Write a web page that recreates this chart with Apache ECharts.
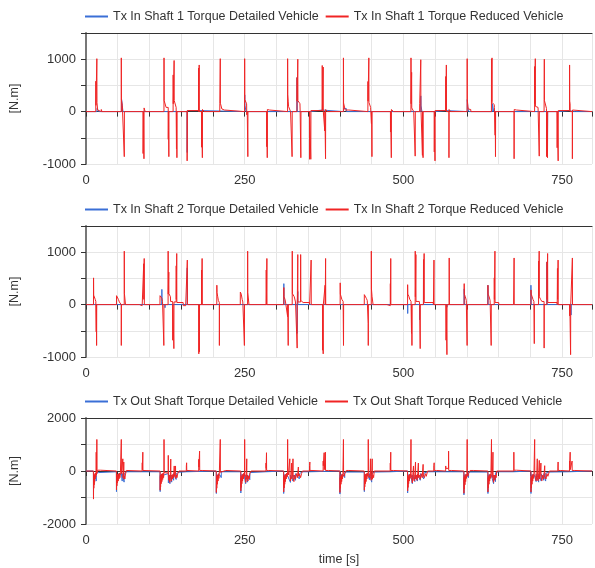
<!DOCTYPE html>
<html>
<head>
<meta charset="utf-8">
<script src="https://cdn.jsdelivr.net/npm/echarts@6.0.0/dist/echarts.min.js"></script>
<style>
  html, body { margin: 0; padding: 0; background: #fff; }
  #chart { width: 595px; height: 568px; }
</style>
</head>
<body>
<div id="chart"></div>
<script>
// tick labels
const timeLabels = [0, 250, 500, 750];
const inShaftLabels = [-1000, 0, 1000];
const outShaftLabels = [-2000, 0, 2000];

const names1 = ['Tx In Shaft 1 Torque Detailed Vehicle', 'Tx In Shaft 1 Torque Reduced Vehicle'];
const names2 = ['Tx In Shaft 2 Torque Detailed Vehicle', 'Tx In Shaft 2 Torque Reduced Vehicle'];
const names3 = ['Tx Out Shaft Torque Detailed Vehicle', 'Tx Out Shaft Torque Reduced Vehicle'];

// [time s, torque N.m]
const shaft1Reduced = [
  [0,0],[15.4,0],[15.5,580],[15.7,120],[17.0,120],[17.1,1010],[17.3,170],[18.2,160],[18.4,30],[21,30],[21.2,0],[24,0],[24.1,40],[25,40],[25.1,0],
  [55.5,0],[55.6,1025],[55.8,220],[57,200],[57.2,120],[59.5,100],[60.2,100],[60.3,-860],[60.5,0],
  [89.8,0],[89.9,-800],[90.4,0],[91.2,0],[91.3,-900],[91.5,70],[93,60],[93.2,0],
  [122.8,0],[122.9,1025],[123.1,210],[126,200],[126.2,80],[129.5,80],[129.6,-530],[129.8,0],[130.4,0],[130.5,-860],[130.7,0],
  [137.2,0],[137.3,700],[137.5,150],[138.7,150],[138.8,975],[139,210],[141.8,180],[142,80],[142.4,80],[142.5,-710],[142.7,0],[143.1,0],[143.2,-880],[143.4,0],
  [159.2,0],[159.3,-940],[159.6,20],[177.2,20],[177.3,830],[177.5,0],[178.2,0],[178.3,890],[178.5,0],
  [182,0],[182.1,-680],[182.3,0],[183.2,0],[183.3,-880],[183.5,40],[186,40],[186.2,0],
  [210.7,0],[210.8,160],[211.4,160],[211.5,1010],[211.7,160],[214,50],[218,30],[218.2,0],
  [249.8,0],[249.9,1010],[250.1,230],[253,150],[253.2,-60],[254,0],[254.8,0],[254.9,-860],[255.1,0],
  [284.6,0],[284.7,-670],[284.9,0],[285.4,0],[285.5,-880],[285.7,40],[289,30],[289.2,0],
  [317.5,0],[317.6,1010],[317.8,330],[318.5,200],[319,100],[322,80],[322.2,0],[324.5,0],[324.6,-860],[324.8,0],
  [332.3,0],[332.4,650],[332.6,200],[333.5,200],[333.6,1000],[333.8,210],[337,150],[337.3,0],[338.3,0],[338.4,-880],[338.6,0],
  [352,0],[352.1,-910],[352.3,0],[354,0],[354.1,-910],[354.3,20],[372,20],[372.1,880],[372.3,20],[373.5,20],[373.6,850],[373.8,0],
  [376,0],[376.1,-370],[376.3,0],[377.2,0],[377.3,-900],[377.5,40],[380,30],[380.2,0],
  [405.4,0],[405.5,1025],[405.7,165],[408,150],[408.2,30],[414,30],[414.2,0],
  [444,0],[444.1,575],[444.3,200],[445.4,200],[445.5,1025],[445.7,175],[448,175],[448.3,80],[449.5,80],[449.6,-230],[449.8,0],[450.3,0],[450.4,-860],[450.6,0],
  [479.5,0],[479.6,-390],[479.8,0],[480.8,0],[480.9,-880],[481.1,40],[484,30],[484.2,0],
  [511.8,0],[511.9,1025],[512.1,150],[512.8,150],[512.9,750],[513.1,70],[516,70],[516.2,0],[518.4,0],[518.5,-850],[518.7,0],
  [525.5,0],[525.6,150],[527.2,150],[527.3,990],[527.5,100],[529.8,100],[529.9,-835],[530.1,0],[530.8,0],[530.9,-880],[531.1,0],
  [548.5,0],[548.6,-770],[548.8,0],[549.6,0],[549.7,-940],[549.9,20],[566.6,20],[566.7,670],[566.9,20],[567.5,20],[567.6,890],[567.8,0],
  [571.6,0],[571.7,-880],[571.9,40],[574,40],[574.2,0],
  [600.3,0],[600.4,1010],[600.6,230],[601.5,100],[602,50],[606,40],[606.2,0],
  [638.6,0],[638.7,1000],[638.9,200],[639.4,200],[639.5,1025],[639.7,175],[643,130],[643.3,80],[644.3,80],[644.4,-450],[644.6,0],[644.9,0],[645,-860],[645.2,0],
  [674.2,0],[674.3,-900],[674.5,40],[678,30],[678.2,0],
  [706.6,0],[706.7,860],[706.9,150],[707.6,150],[707.7,1010],[707.9,100],[712,80],[712.2,0],[713.8,0],[713.9,-850],[714.1,0],
  [721.5,0],[721.6,230],[721.8,230],[721.9,1000],[722.1,210],[725,180],[725.3,60],[725.5,60],[725.6,-860],[725.8,0],[726.8,0],[726.9,-880],[727.1,0],
  [742,0],[742.1,-690],[742.3,0],[743.6,0],[743.7,-940],[743.9,20],[761.6,20],[761.7,890],[761.9,200],[762.5,150],[762.6,0],[766,0],[766.1,-900],[766.3,30],[769,30],[769.2,0],[797,0]
];
const shaft1Detailed = [
  [0,0],[17.3,0],[17.4,60],[20,60],[20.2,0],[56,0],[56.1,230],[58,230],[58.2,0],
  [159.3,0],[159.4,-780],[159.6,20],[177,20],[177.2,0],
  [249.9,0],[250,320],[250.2,120],[252,120],[252.2,0],
  [332.3,0],[332.4,650],[332.6,0],
  [352,0],[352.1,30],[371.8,30],[372,0],
  [405.6,0],[405.7,60],[410,60],[410.2,0],
  [527.2,0],[527.3,300],[527.5,120],[529,120],[529.2,0],
  [549.7,0],[549.8,20],[566.5,20],[566.6,0],
  [600.4,0],[600.5,230],[601.5,60],[603,60],[603.2,0],
  [640,0],[640.1,150],[642,150],[642.2,0],
  [726.8,0],[726.9,-860],[727,-450],[727.2,0],
  [743.7,0],[743.8,20],[761.5,20],[761.6,0],[768,0],[768.1,30],[771,30],[771.2,0],[797,0]
];

const shaft2Reduced = [
  [0,0],[11.8,0],[11.9,510],[12.1,180],[13.5,150],[14.5,100],[15.5,60],[16.0,60],[16.1,-520],[16.3,0],[16.6,0],[16.7,-780],[16.9,0],
  [48,0],[48.1,170],[49.5,140],[51,100],[52.5,50],[54,20],[55.5,0],[55.6,-780],[55.8,0],
  [60.2,0],[60.3,1020],[60.5,210],[62,200],[62.2,0],
  [84,0],[84.1,-20],[88.5,-20],[88.6,0],[90.8,0],[90.9,780],[91.1,100],[91.6,100],[91.7,880],[91.9,0],
  [116.5,0],[116.6,170],[118,160],[119.5,120],[120.5,60],[122.5,40],[122.6,-780],[122.8,0],
  [129.3,0],[129.4,1020],[129.6,200],[130.3,200],[130.4,620],[130.6,210],[133,150],[133.2,60],[136.5,60],[136.6,-680],[136.8,0],[138.3,0],[138.4,-840],[138.6,50],
  [142,50],[142.1,740],[142.3,100],[142.8,100],[142.9,975],[143.1,40],[153,40],[153.2,-20],[157,-20],[157.2,0],
  [159.5,0],[159.6,850],[159.8,0],
  [177.6,0],[177.7,-940],[177.9,0],[178.5,0],[178.6,-900],[178.8,0],
  [182,0],[182.1,660],[182.3,0],[182.8,0],[182.9,880],[183.1,0],
  [206,0],[206.1,370],[206.3,230],[207.5,150],[208.5,80],[210,40],[210.1,-780],[210.3,0],
  [243,0],[243.1,240],[244.5,200],[246,100],[247,50],[249.4,50],[249.5,-780],[249.7,0],
  [254.5,0],[254.6,1020],[254.8,230],[256.5,200],[256.7,0],
  [283.8,0],[283.9,660],[284.1,0],[284.8,0],[284.9,880],[285.1,0],
  [311.5,0],[311.6,325],[311.8,150],[313.5,100],[314.5,30],[317.5,30],[317.6,-230],[317.8,0],[318.4,0],[318.5,-780],[318.7,0],
  [324.8,0],[324.9,1020],[325.1,210],[328,150],[330,50],[332.5,50],[332.6,-830],[332.8,0],[333.5,0],[333.6,955],[333.8,50],
  [338,50],[338.1,955],[338.3,80],[342,40],[352,40],[352.2,0],
  [354.5,0],[354.6,850],[354.8,0],
  [372.5,0],[372.6,-870],[372.8,0],[373.5,0],[373.6,-940],[373.8,0],
  [376.5,0],[376.6,370],[376.8,0],[377.3,0],[377.4,880],[377.6,0],
  [400.3,0],[400.4,415],[400.6,200],[402,180],[403,100],[405,60],[405.5,60],[405.6,-780],[405.8,0],
  [438.3,0],[438.4,190],[440,160],[441.5,120],[443,80],[444.4,60],[444.5,-360],[444.6,-780],[444.8,0],
  [449.3,0],[449.4,1020],[449.6,300],[450.5,300],[450.6,150],[452,150],[452.2,0],
  [474,0],[474.1,-20],[479.3,-20],[479.4,400],[479.6,0],[479.9,0],[480,880],[480.2,0],
  [506.5,0],[506.6,380],[506.8,200],[508.5,160],[510,100],[512,60],[512.6,60],[512.7,-550],[512.9,0],[513.3,0],[513.4,-780],[513.6,0],
  [518.5,0],[518.6,1020],[518.8,150],[519.5,150],[519.6,955],[519.8,60],[525,60],[525.5,0],[526.3,0],[526.4,-840],[526.6,0],
  [531.5,0],[531.6,860],[531.8,100],[532.5,100],[532.6,975],[532.8,40],[547,40],[547.2,0],
  [548,0],[548.1,850],[548.3,0],
  [567,0],[567.1,-680],[567.3,0],[568.4,0],[568.5,-955],[568.7,0],
  [572,0],[572.1,890],[572.3,0],
  [595.6,0],[595.7,400],[595.9,200],[597.5,150],[599,80],[600.2,60],[600.3,-780],[600.5,0],
  [633,0],[633.1,370],[633.3,200],[635,150],[636.5,80],[638,60],[638.2,-780],[638.4,0],
  [643,0],[643.1,510],[643.3,100],[644,100],[644.1,1020],[644.3,40],[650,40],[650.2,0],
  [673.5,0],[673.6,-20],[674.2,-20],[674.3,890],[674.5,0],
  [700.8,0],[700.9,280],[701.1,200],[702.5,160],[704,100],[705.5,60],[706,60],[706.1,-745],[706.3,0],
  [712.8,0],[712.9,830],[713.1,150],[713.7,150],[713.8,1020],[714,150],[716,100],[718,60],[721.5,60],[721.6,-830],[721.8,0],
  [726,0],[726.1,815],[726.3,100],[727,100],[727.1,975],[727.3,40],[742,40],[742.2,0],
  [742.5,0],[742.6,690],[742.8,100],[743.5,100],[743.6,850],[743.8,0],
  [761.8,0],[761.9,-215],[762.1,0],[763.2,0],[763.3,-955],[763.5,0],
  [766,0],[766.1,890],[766.3,0],[797,0]
];
const shaft2Detailed = [
  [0,0],[119.4,0],[119.5,290],[119.7,0],[124.4,0],[124.5,-60],[124.7,0],
  [159.4,0],[159.5,700],[159.7,0],
  [177.5,0],[177.6,30],[178,30],[178.2,0],
  [249.4,0],[249.5,-220],[249.7,0],
  [311.5,0],[311.6,400],[311.8,0],
  [332.4,0],[332.5,-550],[332.7,0],[333.5,0],[333.6,250],[333.8,0],
  [372.4,0],[372.5,30],[373,30],[373.2,0],
  [506.6,0],[506.7,-170],[506.9,0],
  [525.3,0],[525.4,-290],[525.6,0],
  [531.5,0],[531.6,815],[531.8,0],
  [568.4,0],[568.5,-50],[568.7,0],
  [595.6,0],[595.7,300],[595.9,0],
  [632.9,0],[633,370],[633.2,0],
  [700.7,0],[700.8,370],[701,0],
  [725.9,0],[726,815],[726.2,0],
  [763.9,0],[764,-200],[764.2,0],[797,0]
];

const outReduced = [
  [0,0],[11.7,0],[11.8,-1060],[12.0,-250],[12.3,-650],[12.6,-200],[12.9,-520],[13.2,-150],[13.6,-420],[14.0,-100],[14.4,-300],[14.9,-80],[15.4,-220],[15.9,-60],[16.1,710],[16.3,-150],[16.8,-50],[17.1,1190],[17.3,-80],[18.0,-40],[18.5,30],[23,30],[23.2,0],
  [47.9,0],[48.0,-710],[48.3,-200],[48.7,-560],[49.1,-150],[49.6,-450],[50.1,-120],[50.7,-380],[51.3,-100],[52,-300],[52.7,-80],[53.4,-250],[54.2,-60],[55.5,-100],[55.6,1190],[55.8,-100],[57.8,-80],[58,460],[58.3,-250],[59,-150],[59.5,340],[59.8,-310],[60.5,-200],[61.2,-300],[62,-150],[63,-100],[63.5,20],[66,20],[66.2,0],
  [88.5,0],[88.6,310],[88.8,50],[89.4,50],[89.5,710],[89.7,20],[92,20],[92.2,0],
  [116.7,0],[116.8,-725],[117.1,-200],[117.5,-600],[117.9,-150],[118.4,-480],[118.9,-120],[119.5,-400],[120.1,-100],[120.8,-320],[121.5,-80],[122.2,-250],[122.8,-60],[122.9,1190],[123.1,-60],[124,-30],[126,-50],[129.5,-80],[129.6,590],[129.8,-200],[130.5,-350],[131.2,-150],[132,-430],[132.8,-200],[133.5,450],[133.8,-250],[134.6,-380],[135.4,-150],[136.2,-300],[137,-120],[138,-250],[139,190],[139.3,-200],[140.2,-120],[141,190],[141.3,-280],[142.3,-150],[143.3,-250],[144.5,-100],[145.5,-150],[146.5,0],
  [158,0],[158.1,200],[158.4,200],[158.5,310],[158.7,20],[161,20],[161.2,0],
  [177.5,0],[177.6,440],[177.8,150],[178.8,150],[178.9,750],[179.1,20],[183,20],[183.2,0],
  [205.2,0],[205.3,-810],[205.6,-250],[206,-650],[206.4,-200],[206.9,-500],[207.4,-150],[208,-380],[208.6,-100],[209.3,-280],[210,-80],[210.8,-150],[211.4,-100],[211.5,1190],[211.7,-50],[212.5,-100],[213.5,-30],[214,20],[220,20],[220.2,0],
  [243.8,0],[243.9,-750],[244.2,-250],[244.6,-620],[245,-200],[245.5,-480],[246,-150],[246.6,-380],[247.2,-120],[247.9,-300],[248.6,-80],[249.3,-200],[249.8,-60],[249.9,1190],[250.1,-100],[251,-250],[251.8,-430],[252.5,-150],[253.2,460],[253.4,-300],[254.2,-150],[255,-380],[256,-200],[257,-300],[258,-100],[259,-150],[260,0],
  [283.5,0],[283.6,300],[283.8,100],[284.2,100],[284.3,690],[284.5,20],[288,20],[288.2,0],
  [311.3,0],[311.4,-790],[311.7,-250],[312.1,-640],[312.5,-200],[313,-500],[313.5,-150],[314.1,-400],[314.7,-120],[315.4,-300],[316.1,-80],[316.8,-220],[317.5,-60],[317.6,1190],[317.8,-60],[318.8,-150],[320.5,-100],[321,460],[321.3,-200],[322.2,-380],[323,-150],[324,300],[324.3,-300],[325.3,-150],[326,460],[326.3,-250],[327.5,-400],[328.5,-150],[330,-300],[331.5,-100],[333,-250],[334.5,150],[334.8,-200],[336.5,-120],[338,-250],[339.5,-100],[341,0],
  [352,0],[352.1,200],[352.5,200],[352.6,340],[352.8,20],[356,20],[356.2,0],
  [373.5,0],[373.6,375],[373.8,200],[375,200],[375.1,690],[375.3,50],[377,50],[377.1,710],[377.3,20],[382,20],[382.2,0],
  [399.9,0],[400,-810],[400.3,-250],[400.7,-650],[401.1,-200],[401.6,-500],[402.1,-150],[402.7,-400],[403.3,-120],[404,-300],[404.7,-80],[405.4,-150],[405.5,1190],[405.7,-60],[406.6,-200],[407.5,-100],[408.5,-150],[409.5,-30],[410,20],[414,20],[414.2,0],
  [438.3,0],[438.4,-725],[438.7,-200],[439.1,-600],[439.5,-150],[440,-480],[440.5,-120],[441.1,-400],[441.7,-100],[442.4,-300],[443.1,-80],[443.8,-200],[444.5,-100],[444.6,1190],[444.8,-100],[446,-250],[447.5,-150],[448,460],[448.3,-200],[449.2,-350],[450,-150],[450.8,460],[451.1,-310],[452,-150],[453,-250],[454,0],
  [479.2,0],[479.3,300],[479.5,50],[479.9,50],[480,710],[480.2,20],[484,20],[484.2,0],
  [506.5,0],[506.6,-750],[506.9,-250],[507.3,-620],[507.7,-200],[508.2,-480],[508.7,-150],[509.3,-380],[509.9,-120],[510.6,-280],[511.3,-80],[511.8,-100],[511.9,1190],[512.1,-100],[513,-250],[514,-450],[514.8,-150],[515.8,190],[516.1,-250],[517,-380],[518,-150],[519,340],[519.3,-300],[520.3,-150],[521.3,-350],[522.5,-100],[523.5,300],[523.8,-250],[525,-150],[526.5,-310],[528,-100],[529.5,-250],[531,250],[531.3,-150],[533,-250],[534.5,-100],[536,-200],[538,0],
  [547.8,0],[547.9,200],[548.3,200],[548.4,310],[548.6,20],[552,20],[552.2,0],
  [566.5,0],[566.6,190],[566.8,100],[571,100],[571.1,750],[571.3,20],[576,20],[576.2,0],
  [595.2,0],[595.3,-840],[595.6,-250],[596,-680],[596.4,-200],[596.9,-520],[597.4,-150],[598,-400],[598.6,-120],[599.3,-280],[600,-100],[600.3,-80],[600.4,1190],[600.6,-80],[601.5,-200],[602.5,-100],[603.5,-150],[604.5,-30],[605,20],[610,20],[610.2,0],
  [633,0],[633.1,-790],[633.4,-250],[633.8,-640],[634.2,-200],[634.7,-500],[635.2,-150],[635.8,-380],[636.4,-120],[637.1,-280],[637.8,-80],[638.6,-100],[638.7,1190],[638.9,-100],[640,-250],[641,710],[641.2,-300],[642,-430],[643,-150],[644,-350],[645,-150],[646,-250],[647,0],
  [673.8,0],[673.9,710],[674.1,30],[678,30],[678.2,0],
  [700.8,0],[700.9,-790],[701.2,-250],[701.6,-640],[702,-200],[702.5,-500],[703,-150],[703.6,-380],[704.2,-120],[704.9,-280],[705.6,-80],[706.6,-100],[706.7,1190],[706.9,-100],[708,-250],[709,-370],[710,-150],[710.8,460],[711.1,-250],[712,-370],[713,-150],[714,400],[714.3,-300],[715.5,-150],[716.5,300],[716.8,-250],[718,-370],[719.5,-150],[721,-300],[722.5,200],[722.8,-200],[724.5,-300],[726,-100],[727.5,-200],[729,-80],[730,0],
  [743.2,0],[743.3,150],[743.5,150],[743.6,340],[743.8,20],[747,20],[747.2,0],
  [761.5,0],[761.6,375],[761.8,150],[762.5,150],[762.6,710],[762.8,50],[765.5,50],[765.6,375],[765.8,20],[770,20],[770.2,0],[797,0]
];
const outDetailed = [
  [0,0],[11.7,0],[11.8,-900],[12.0,-200],[15.8,-200],[16,-380],[16.2,-100],[19.5,-60],[20,-30],
  [47.9,-30],[48,-780],[48.2,-150],[54,-150],[55.5,-200],[55.7,-60],[57,-380],[57.2,-100],[60,-420],[60.2,-100],[64,-30],[88,-30],[88.2,0],
  [116.7,-30],[116.8,-780],[117,-150],[122.5,-150],[123.1,-100],[129.6,-100],[129.8,-450],[130,-150],[132.2,-480],[132.4,-150],[135,-420],[135.2,-150],[138,-350],[138.2,-100],[142,-320],[142.2,-100],[146,-50],[147,-30],[158,-30],[158.2,0],
  [205.2,0],[205.3,-850],[205.5,-150],[211,-150],[211.7,-100],[213,-250],[213.2,-30],
  [243.8,-30],[243.9,-830],[244.1,-150],[249,-150],[250.1,-100],[251.5,-480],[251.7,-150],[254.5,-420],[254.7,-150],[258,-330],[258.2,-60],[261,-30],[283,-30],[283.2,0],
  [311.3,0],[311.4,-850],[311.6,-150],[317,-150],[317.8,-100],[322,-430],[322.2,-150],[326,-380],[326.2,-150],[330,-350],[330.2,-100],[336,-300],[336.2,-100],[341,-30],[352,-30],[352.2,0],
  [399.9,0],[400,-870],[400.2,-150],[405,-150],[405.7,-100],[407.5,-250],[407.7,-40],[438.3,-40],
  [438.4,-780],[438.6,-150],[444,-150],[444.8,-100],[446.5,-330],[446.7,-100],[450,-420],[450.2,-100],[454,-40],[456,-30],[479,-30],[479.2,0],
  [506.5,0],[506.6,-830],[506.8,-150],[511.5,-150],[512.1,-100],[514,-480],[514.2,-150],[518,-400],[518.2,-150],[522,-380],[522.2,-120],[526.5,-350],[526.7,-100],[532,-300],[532.2,-80],[538,-30],[547,-30],[547.2,0],
  [595.2,-30],[595.3,-900],[595.5,-150],[600,-150],[600.6,-100],[602.5,-250],[602.7,-40],[633,-40],
  [633.1,-850],[633.3,-150],[638.3,-150],[638.9,-100],[642,-480],[642.2,-150],[645,-400],[645.2,-60],[650,-30],[673,-30],[673.2,0],
  [700.8,0],[700.9,-850],[701.1,-150],[706,-150],[706.9,-100],[709,-400],[709.2,-120],[713,-420],[713.2,-120],[717,-380],[717.2,-120],[721,-350],[721.2,-100],[724,-380],[724.2,-80],[730,-40],[733,-30],[760,-30],[760.2,0],[797,0]
];

const blue = '#3a6fd6';
const red = '#f02424';
const font = 'Liberation Sans, Arial, sans-serif';
const tMax = 797;

const chart = echarts.init(document.getElementById('chart'), null, { renderer: 'canvas' });

function xAxisFor(grid, withName) {
  return {
    type: 'value', gridIndex: grid, min: 0, max: tMax, interval: 50,
    name: withName ? 'time [s]' : '',
    nameLocation: 'middle', nameGap: 29,
    nameTextStyle: { color: '#333', fontSize: 12.5, fontFamily: font },
    axisLine: { show: true, lineStyle: { color: '#333', width: 1 } },
    axisTick: { show: true, length: 5, lineStyle: { color: '#333' } },
    axisLabel: {
      color: '#333', fontSize: 13, fontFamily: font, margin: 10,
      formatter: v => timeLabels.indexOf(v) >= 0 ? String(v) : ''
    },
    splitLine: { show: true, lineStyle: { color: '#e6e6e6', width: 1 } }
  };
}
function topAxisFor(grid) {
  return {
    type: 'value', gridIndex: grid, position: 'top', min: 0, max: tMax,
    axisLine: { show: true, lineStyle: { color: '#333', width: 1 } },
    axisTick: { show: false }, axisLabel: { show: false }, splitLine: { show: false }
  };
}
function yAxisFor(grid, min, max, interval, labels) {
  return {
    type: 'value', gridIndex: grid, min: min, max: max, interval: interval,
    name: '[N.m]', nameLocation: 'middle', nameGap: 65, nameRotate: 90,
    nameTextStyle: { color: '#333', fontSize: 12.5, fontFamily: font },
    axisLine: { show: true, lineStyle: { color: '#777', width: 2 } },
    axisTick: { show: true, length: 5, lineStyle: { color: '#333' } },
    axisLabel: {
      color: '#333', fontSize: 13, fontFamily: font, margin: 10,
      formatter: v => labels.indexOf(v) >= 0 ? String(v) : ''
    },
    splitLine: { show: true, lineStyle: { color: '#e6e6e6', width: 1 } }
  };
}
function legendFor(names, top, colors) {
  return {
    data: names.map((n, i) => ({ name: n, itemStyle: { color: colors[i] } })),
    top: top, left: 85, padding: 0, icon: 'rect', itemWidth: 23, itemHeight: 2, itemGap: 7,
    textStyle: { color: '#333', fontSize: 12.5, fontFamily: font }
  };
}
function lineSeries(name, data, idx, color) {
  return {
    name: name, type: 'line', data: data, xAxisIndex: idx, yAxisIndex: idx,
    symbol: 'none', showSymbol: false, sampling: null,
    lineStyle: { width: 1, color: color }, itemStyle: { color: color }
  };
}

chart.setOption({
  animation: false,
  backgroundColor: '#fff',
  legend: [
    legendFor(names1, 10, [blue, red]),
    legendFor(names2, 203, [blue, red]),
    legendFor(names3, 395, [blue, red])
  ],
  grid: [
    { left: 85, right: 0, top: 33, height: 131 },
    { left: 85, right: 0, top: 226, height: 131 },
    { left: 85, right: 0, top: 418, height: 106 }
  ],
  xAxis: [xAxisFor(0, false), xAxisFor(1, false), xAxisFor(2, true), topAxisFor(0), topAxisFor(1), topAxisFor(2)],
  yAxis: [
    yAxisFor(0, -1000, 1500, 500, inShaftLabels),
    yAxisFor(1, -1000, 1500, 500, inShaftLabels),
    yAxisFor(2, -2000, 2000, 1000, outShaftLabels)
  ],
  series: [
    lineSeries(names1[0], shaft1Detailed, 0, blue),
    lineSeries(names1[1], shaft1Reduced, 0, red),
    lineSeries(names2[0], shaft2Detailed, 1, blue),
    lineSeries(names2[1], shaft2Reduced, 1, red),
    lineSeries(names3[0], outDetailed, 2, blue),
    lineSeries(names3[1], outReduced, 2, red)
  ]
});
</script>
</body>
</html>
